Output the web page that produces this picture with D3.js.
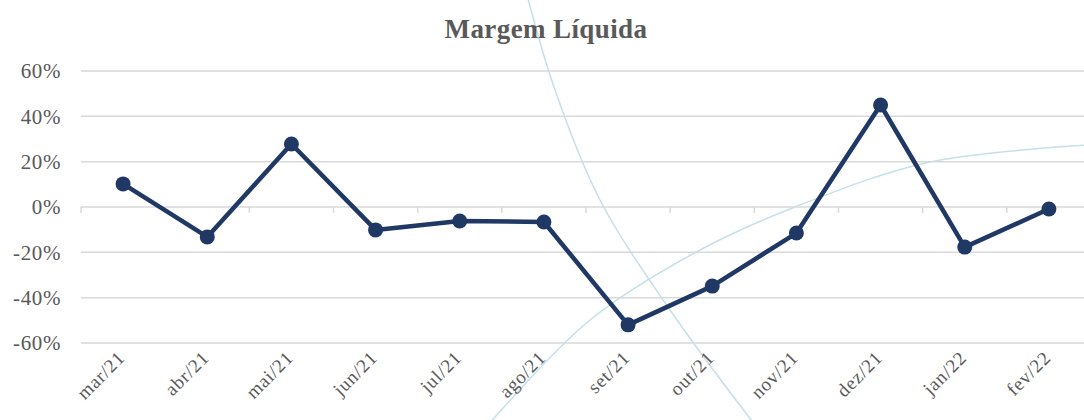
<!DOCTYPE html>
<html lang="pt">
<head>
  <meta charset="UTF-8">
  <title>Margem Líquida</title>
  <style>
    html, body { margin: 0; padding: 0; background: #fff; overflow: hidden; }
    svg { display: block; font-family: 'Liberation Serif', 'DejaVu Serif', serif; }
  </style>
</head>
<body>
  <svg id="chart" width="1084" height="420"></svg>

  <script src="https://d3js.org/d3.v7.min.js"></script>
  <script>
    // data
    const months = ["mar/21", "abr/21", "mai/21", "jun/21", "jul/21", "ago/21",
                    "set/21", "out/21", "nov/21", "dez/21", "jan/22", "fev/22"];
    const margem = [0.102, -0.132, 0.278, -0.101, -0.062, -0.066,
                    -0.52, -0.349, -0.115, 0.45, -0.177, -0.009];
    const yTicks = [-0.6, -0.4, -0.2, 0, 0.2, 0.4, 0.6];

    // background swooshes (decoration only)
    const swoosh1 = [[527, -5], [555, 90], [600, 200], [670, 310], [755, 425]];
    const swoosh2 = [[488, 425], [590, 320], [700, 250], [800, 205], [930, 162], [1090, 145]];

    const width = 1084, height = 420;
    const svg = d3.select("#chart");

    // plain hyphen for negatives, like the original
    const pct = d3.formatLocale({ decimal: ",", thousands: ".", grouping: [3], currency: ["R$", ""], minus: "-" }).format(".0%");

    const x = d3.scaleBand().domain(months).range([81, 1091]);
    const y = d3.scaleLinear().domain([-0.6, 0.6]).range([343, 71]);

    const curve = d3.line().curve(d3.curveCatmullRom);
    svg.selectAll("path.swoosh")
      .data([swoosh1, swoosh2])
      .enter().append("path")
      .attr("class", "swoosh")
      .attr("d", d => curve(d))
      .attr("fill", "none")
      .attr("stroke", "#c4e0ea")
      .attr("stroke-width", 1.5);

    // gridlines
    svg.append("g")
      .selectAll("line")
      .data(yTicks)
      .enter().append("line")
      .attr("x1", 81).attr("x2", width)
      .attr("y1", d => y(d)).attr("y2", d => y(d))
      .attr("stroke", "#d9d9d9")
      .attr("stroke-width", 1.5);

    // y labels
    svg.append("g")
      .selectAll("text")
      .data(yTicks)
      .enter().append("text")
      .attr("x", 61)
      .attr("y", d => y(d))
      .attr("dy", "0.35em")
      .attr("text-anchor", "end")
      .attr("font-size", 21)
      .attr("letter-spacing", 0.6)
      .attr("fill", "#595959")
      .text(pct);

    // category ticks on the zero line
    svg.append("g")
      .selectAll("line")
      .data(d3.range(months.length + 1))
      .enter().append("line")
      .attr("x1", i => 81 + i * x.bandwidth())
      .attr("x2", i => 81 + i * x.bandwidth())
      .attr("y1", y(0)).attr("y2", y(0) + 6)
      .attr("stroke", "#d9d9d9")
      .attr("stroke-width", 1.5);

    // x labels, rotated
    svg.append("g")
      .selectAll("text")
      .data(months)
      .enter().append("text")
      .attr("transform", d => `translate(${x(d) + x.bandwidth() / 2 + 3},${359}) rotate(-45)`)
      .attr("text-anchor", "end")
      .attr("font-size", 19)
      .attr("letter-spacing", 0.8)
      .attr("fill", "#595959")
      .text(d => d);

    // line + markers
    const pts = months.map((m, i) => ({ m, v: margem[i] }));
    const line = d3.line()
      .x(d => x(d.m) + x.bandwidth() / 2)
      .y(d => y(d.v));

    svg.append("path")
      .datum(pts)
      .attr("d", line)
      .attr("fill", "none")
      .attr("stroke", "#203864")
      .attr("stroke-width", 4.5)
      .attr("stroke-linejoin", "round");

    svg.selectAll("circle")
      .data(pts)
      .enter().append("circle")
      .attr("cx", d => x(d.m) + x.bandwidth() / 2)
      .attr("cy", d => y(d.v))
      .attr("r", 7.5)
      .attr("fill", "#203864");

    // title
    svg.append("text")
      .attr("x", 546)
      .attr("y", 38)
      .attr("text-anchor", "middle")
      .attr("font-size", 27)
      .attr("font-weight", "bold")
      .attr("letter-spacing", 0.4)
      .attr("fill", "#595959")
      .text("Margem Líquida");
  </script>
</body>
</html>
